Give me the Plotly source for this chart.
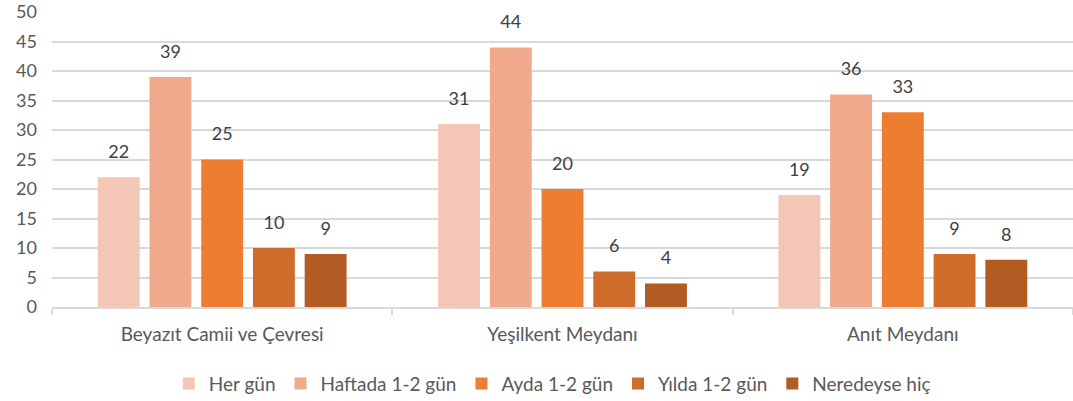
import plotly.graph_objects as go

categories = ["Beyazıt Camii ve Çevresi", "Yeşilkent Meydanı", "Anıt Meydanı"]
series_names = ["Her gün", "Haftada 1-2 gün", "Ayda 1-2 gün", "Yılda 1-2 gün", "Neredeyse hiç"]
her_gun = [22, 31, 19]
haftada = [39, 44, 36]
ayda = [25, 20, 33]
yilda = [10, 6, 9]
neredeyse = [9, 4, 8]
y_ticks = [0, 5, 10, 15, 20, 25, 30, 35, 40, 45, 50]

colors = ["#F4C6B5", "#F0A98A", "#ED7D31", "#D06C2B", "#B25B22"]
values = [her_gun, haftada, ayda, yilda, neredeyse]

FONT = "Lato, 'Open Sans', sans-serif"

fig = go.Figure()
for i, (name, vals, col) in enumerate(zip(series_names, values, colors)):
    fig.add_trace(go.Bar(
        name=name, x=categories, y=vals, marker=dict(color=col, line=dict(width=0)),
        offsetgroup=str(i), alignmentgroup="a", hoverinfo="skip",
    ))
for i, (name, vals, col) in enumerate(zip(series_names, values, colors)):
    fig.add_trace(go.Scatter(
        x=categories, y=vals, mode="markers+text", text=[str(v) for v in vals],
        textposition="top center", textfont=dict(size=18, color="#404040", family=FONT),
        marker=dict(size=22, opacity=0, color=col), offsetgroup=str(i), alignmentgroup="a",
        showlegend=False, hoverinfo="skip", cliponaxis=False,
    ))

fig.update_layout(
    width=1073, height=401,
    margin=dict(l=52, r=0, t=12, b=94, autoexpand=False),
    paper_bgcolor="white", plot_bgcolor="white",
    barmode="group", bargap=0.24, bargroupgap=0.19,
    scattermode="group", scattergap=0.24,
    font=dict(family=FONT, color="#595959", size=18),
    legend=dict(orientation="h", x=0.49, xanchor="center", y=-0.26, yanchor="middle",
                font=dict(size=19, color="#595959"), itemwidth=30, traceorder="normal"),
)
fig.update_yaxes(range=[0, 50], tickvals=y_ticks, showgrid=True, gridcolor="#D9D9D9", gridwidth=1.5,
                 zeroline=False, ticks="", ticklabelstandoff=14, automargin=False,
                 ticklabeloverflow="allow", tickfont=dict(size=18, color="#595959"))
fig.update_xaxes(range=[-0.5, 2.5], showline=True, linecolor="#D9D9D9", linewidth=1.5, tickson="boundaries",
                 ticks="outside", ticklen=6, tickcolor="#D9D9D9", tickwidth=1.5, automargin=False,
                 ticklabelstandoff=9, tickfont=dict(size=19, color="#595959"))

fig.write_html("out.html", config={"displayModeBar": False, "responsive": False},
               post_script="document.body.style.margin='0px';")
